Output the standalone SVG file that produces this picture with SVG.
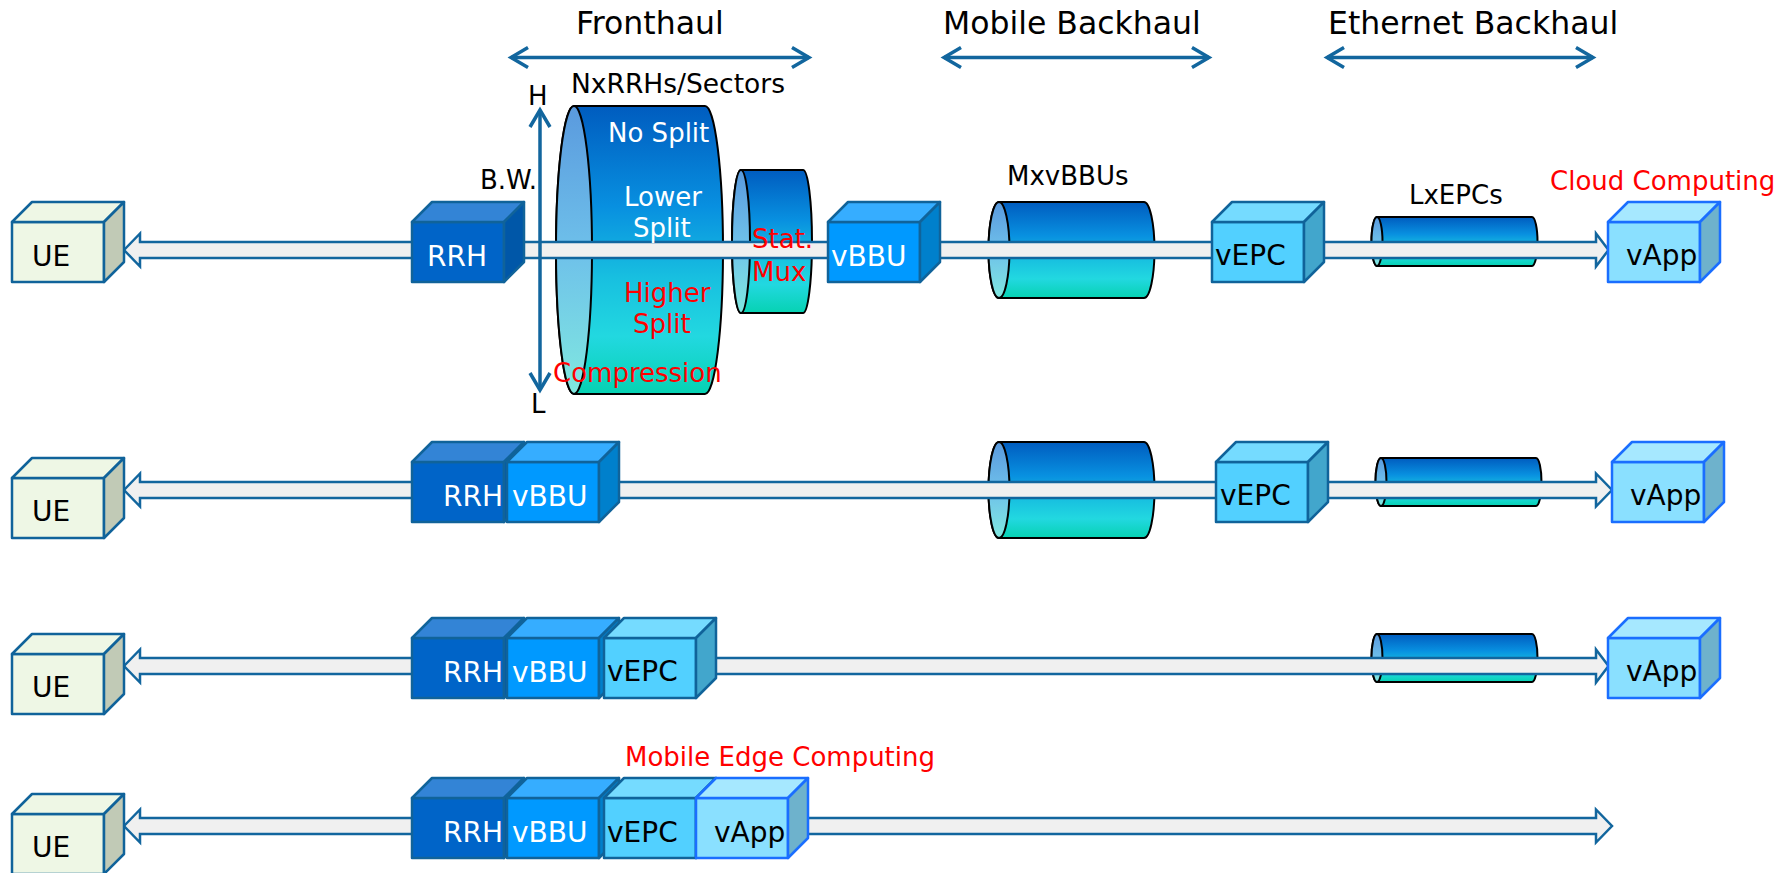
<svg xmlns="http://www.w3.org/2000/svg" width="1783" height="873" viewBox="0 0 1783 873">
  <style>
    text { font-family: "DejaVu Sans", Verdana, sans-serif; fill: #000; }
    .hdr { font-size: 31.5px; }
    .lbl { font-size: 26px; }
    .sm { font-size: 26.5px; }
    .cap { font-size: 28px; }
    .red { fill: #ff0000; }
    .wht { fill: #ffffff; }
    .span { fill: none; stroke: #12669e; stroke-width: 3.5; }
    .pipe { fill: #f0f0f0; stroke: #12669e; stroke-width: 2.5; }
    .cyl { stroke: #000; stroke-width: 2; fill: url(#bodyGrad); }
    .cylEnd { stroke: #000; stroke-width: 2; fill: url(#endGrad); }
    .cube rect, .cube polygon { stroke: #10639a; stroke-width: 2.5; stroke-linejoin: round; }
    .ue .f, .ue .t { fill: #eef7e5; } .ue .s { fill: #c1cab6; }
    .rrh .f { fill: #0064c8; } .rrh .t { fill: #3384d6; } .rrh .s { fill: #0057a8; }
    .bbu .f { fill: #0099ff; } .bbu .t { fill: #36adff; } .bbu .s { fill: #0080cc; }
    .epc .f { fill: #52d0ff; } .epc .t { fill: #75dbff; } .epc .s { fill: #42a6cc; }
    .app .f { fill: #8ae0ff; } .app .t { fill: #a6e8ff; } .app .s { fill: #6eb2cc; }
    .cube.app rect, .cube.app polygon { stroke: #1a6eff; }
  </style>
  <defs>
    <linearGradient id="bodyGrad" x1="0" y1="0" x2="0" y2="1">
      <stop offset="0" stop-color="#005cbf"/>
      <stop offset="0.35" stop-color="#0890e0"/>
      <stop offset="0.6" stop-color="#18c0e0"/>
      <stop offset="0.8" stop-color="#22d8e0"/>
      <stop offset="1" stop-color="#06d2b2"/>
    </linearGradient>
    <linearGradient id="endGrad" x1="0" y1="0" x2="0" y2="1">
      <stop offset="0" stop-color="#5a9ade"/>
      <stop offset="0.5" stop-color="#6ec0ea"/>
      <stop offset="1" stop-color="#80e8e0"/>
    </linearGradient>
    <marker id="chev" viewBox="-20 -12 22 24" refX="0" refY="0" markerWidth="22" markerHeight="24" markerUnits="userSpaceOnUse" orient="auto-start-reverse" overflow="visible">
      <path d="M-17,-10 L0,0 L-17,10" fill="none" stroke="#12669e" stroke-width="3.5"/>
    </marker>
  </defs>

  <!-- section headers -->
  <g id="headers">
    <text class="hdr" x="576" y="34">Fronthaul</text>
    <text class="hdr" x="943" y="34">Mobile Backhaul</text>
    <text class="hdr" x="1328" y="34">Ethernet Backhaul</text>
  </g>

  <!-- pooled resources (cylinders) -->
  <g id="pool-rrh">
    <path class="cyl" d="M574,106 H705 A18,144 0 0 1 705,394 H574 A18,144 0 0 1 574,106 Z"/>
    <ellipse class="cylEnd" cx="574" cy="250" rx="18" ry="144"/>
  </g>
  <g id="pool-statmux">
    <path class="cyl" d="M741,170 H803 A9,71.5 0 0 1 803,313 H741 A9,71.5 0 0 1 741,170 Z"/>
    <ellipse class="cylEnd" cx="741" cy="241.5" rx="9" ry="71.5"/>
  </g>
  <g id="pool-bbu-1">
    <path class="cyl" d="M999,202 H1144 A10.5,48 0 0 1 1144,298 H999 A10.5,48 0 0 1 999,202 Z"/>
    <ellipse class="cylEnd" cx="999" cy="250" rx="10.5" ry="48"/>
  </g>
  <g id="pool-bbu-2">
    <path class="cyl" d="M999,442 H1144 A10.5,48 0 0 1 1144,538 H999 A10.5,48 0 0 1 999,442 Z"/>
    <ellipse class="cylEnd" cx="999" cy="490" rx="10.5" ry="48"/>
  </g>
  <g id="pool-epc-1">
    <path class="cyl" d="M1377,217 H1532 A5.5,24.5 0 0 1 1532,266 H1377 A5.5,24.5 0 0 1 1377,217 Z"/>
    <ellipse class="cylEnd" cx="1377" cy="241.5" rx="5.5" ry="24.5"/>
  </g>
  <g id="pool-epc-2">
    <path class="cyl" d="M1381,458 H1536 A5.5,24 0 0 1 1536,506 H1381 A5.5,24 0 0 1 1381,458 Z"/>
    <ellipse class="cylEnd" cx="1381" cy="482" rx="5.5" ry="24"/>
  </g>
  <g id="pool-epc-3">
    <path class="cyl" d="M1377,634 H1532 A5.5,24 0 0 1 1532,682 H1377 A5.5,24 0 0 1 1377,634 Z"/>
    <ellipse class="cylEnd" cx="1377" cy="658" rx="5.5" ry="24"/>
  </g>

  <!-- connectors -->
  <g id="connectors">
    <line class="span" x1="511" y1="57.5" x2="809" y2="57.5" marker-start="url(#chev)" marker-end="url(#chev)"/>
    <line class="span" x1="944" y1="57.5" x2="1209" y2="57.5" marker-start="url(#chev)" marker-end="url(#chev)"/>
    <line class="span" x1="1327" y1="57.5" x2="1593" y2="57.5" marker-start="url(#chev)" marker-end="url(#chev)"/>
    <path class="pipe" d="M124,250 L140,233.5 L140,242 L1596,242 L1596,233.5 L1608.5,250 L1596,266.5 L1596,258 L140,258 L140,266.5 Z"/>
    <path class="pipe" d="M124,490 L140,473.5 L140,482 L1596,482 L1596,473.5 L1612,490 L1596,506.5 L1596,498 L140,498 L140,506.5 Z"/>
    <path class="pipe" d="M124,666 L140,649.5 L140,658 L1596,658 L1596,649.5 L1608.5,666 L1596,682.5 L1596,674 L140,674 L140,682.5 Z"/>
    <path class="pipe" d="M124,826 L140,809.5 L140,818 L1596,818 L1596,809.5 L1612,826 L1596,842.5 L1596,834 L140,834 L140,842.5 Z"/>
  </g>

  <!-- row 1: centralised RAN -->
  <g id="ue-1" class="cube ue">
    <rect class="f" x="12" y="222" width="92" height="60"/>
    <polygon class="t" points="12,222 32,202 124,202 104,222"/>
    <polygon class="s" points="104,222 124,202 124,262 104,282"/>
    <text class="cap" x="32" y="266">UE</text>
  </g>
  <g id="rrh-1" class="cube rrh">
    <rect class="f" x="412" y="222" width="92" height="60"/>
    <polygon class="t" points="412,222 432,202 524,202 504,222"/>
    <polygon class="s" points="504,222 524,202 524,262 504,282"/>
    <text class="cap wht" x="427" y="266">RRH</text>
  </g>
  <g id="vbbu-1" class="cube bbu">
    <rect class="f" x="828" y="222" width="92" height="60"/>
    <polygon class="t" points="828,222 848,202 940,202 920,222"/>
    <polygon class="s" points="920,222 940,202 940,262 920,282"/>
    <text class="cap wht" x="831" y="266">vBBU</text>
  </g>
  <g id="vepc-1" class="cube epc">
    <rect class="f" x="1212" y="222" width="92" height="60"/>
    <polygon class="t" points="1212,222 1232,202 1324,202 1304,222"/>
    <polygon class="s" points="1304,222 1324,202 1324,262 1304,282"/>
    <text class="cap" x="1215" y="265">vEPC</text>
  </g>
  <g id="vapp-1" class="cube app">
    <rect class="f" x="1608" y="222" width="92" height="60"/>
    <polygon class="t" points="1608,222 1628,202 1720,202 1700,222"/>
    <polygon class="s" points="1700,222 1720,202 1720,262 1700,282"/>
    <text class="cap" x="1626" y="265">vApp</text>
  </g>

  <!-- row 2: RRH with local vBBU -->
  <g id="ue-2" class="cube ue">
    <rect class="f" x="12" y="478" width="92" height="60"/>
    <polygon class="t" points="12,478 32,458 124,458 104,478"/>
    <polygon class="s" points="104,478 124,458 124,518 104,538"/>
    <text class="cap" x="32" y="521">UE</text>
  </g>
  <g id="rrh-2" class="cube rrh">
    <rect class="f" x="412" y="462" width="92" height="60"/>
    <polygon class="t" points="412,462 432,442 524,442 504,462"/>
    <polygon class="s" points="504,462 524,442 524,502 504,522"/>
    <text class="cap wht" x="443" y="506">RRH</text>
  </g>
  <g id="vbbu-2" class="cube bbu">
    <rect class="f" x="507" y="462" width="92" height="60"/>
    <polygon class="t" points="507,462 527,442 619,442 599,462"/>
    <polygon class="s" points="599,462 619,442 619,502 599,522"/>
    <text class="cap wht" x="512" y="506">vBBU</text>
  </g>
  <g id="vepc-2" class="cube epc">
    <rect class="f" x="1216" y="462" width="92" height="60"/>
    <polygon class="t" points="1216,462 1236,442 1328,442 1308,462"/>
    <polygon class="s" points="1308,462 1328,442 1328,502 1308,522"/>
    <text class="cap" x="1220" y="505">vEPC</text>
  </g>
  <g id="vapp-2" class="cube app">
    <rect class="f" x="1612" y="462" width="92" height="60"/>
    <polygon class="t" points="1612,462 1632,442 1724,442 1704,462"/>
    <polygon class="s" points="1704,462 1724,442 1724,502 1704,522"/>
    <text class="cap" x="1630" y="505">vApp</text>
  </g>

  <!-- row 3: RRH, vBBU and vEPC at the cell site -->
  <g id="ue-3" class="cube ue">
    <rect class="f" x="12" y="654" width="92" height="60"/>
    <polygon class="t" points="12,654 32,634 124,634 104,654"/>
    <polygon class="s" points="104,654 124,634 124,694 104,714"/>
    <text class="cap" x="32" y="697">UE</text>
  </g>
  <g id="rrh-3" class="cube rrh">
    <rect class="f" x="412" y="638" width="92" height="60"/>
    <polygon class="t" points="412,638 432,618 524,618 504,638"/>
    <polygon class="s" points="504,638 524,618 524,678 504,698"/>
    <text class="cap wht" x="443" y="682">RRH</text>
  </g>
  <g id="vbbu-3" class="cube bbu">
    <rect class="f" x="507" y="638" width="92" height="60"/>
    <polygon class="t" points="507,638 527,618 619,618 599,638"/>
    <polygon class="s" points="599,638 619,618 619,678 599,698"/>
    <text class="cap wht" x="512" y="682">vBBU</text>
  </g>
  <g id="vepc-3" class="cube epc">
    <rect class="f" x="604" y="638" width="92" height="60"/>
    <polygon class="t" points="604,638 624,618 716,618 696,638"/>
    <polygon class="s" points="696,638 716,618 716,678 696,698"/>
    <text class="cap" x="607" y="681">vEPC</text>
  </g>
  <g id="vapp-3" class="cube app">
    <rect class="f" x="1608" y="638" width="92" height="60"/>
    <polygon class="t" points="1608,638 1628,618 1720,618 1700,638"/>
    <polygon class="s" points="1700,638 1720,618 1720,678 1700,698"/>
    <text class="cap" x="1626" y="681">vApp</text>
  </g>

  <!-- row 4: everything at the edge -->
  <g id="ue-4" class="cube ue">
    <rect class="f" x="12" y="814" width="92" height="60"/>
    <polygon class="t" points="12,814 32,794 124,794 104,814"/>
    <polygon class="s" points="104,814 124,794 124,854 104,874"/>
    <text class="cap" x="32" y="857">UE</text>
  </g>
  <g id="rrh-4" class="cube rrh">
    <rect class="f" x="412" y="798" width="92" height="60"/>
    <polygon class="t" points="412,798 432,778 524,778 504,798"/>
    <polygon class="s" points="504,798 524,778 524,838 504,858"/>
    <text class="cap wht" x="443" y="842">RRH</text>
  </g>
  <g id="vbbu-4" class="cube bbu">
    <rect class="f" x="507" y="798" width="92" height="60"/>
    <polygon class="t" points="507,798 527,778 619,778 599,798"/>
    <polygon class="s" points="599,798 619,778 619,838 599,858"/>
    <text class="cap wht" x="512" y="842">vBBU</text>
  </g>
  <g id="vepc-4" class="cube epc">
    <rect class="f" x="604" y="798" width="92" height="60"/>
    <polygon class="t" points="604,798 624,778 716,778 696,798"/>
    <polygon class="s" points="696,798 716,778 716,838 696,858"/>
    <text class="cap" x="607" y="842">vEPC</text>
  </g>
  <g id="vapp-4" class="cube app">
    <rect class="f" x="696" y="798" width="92" height="60"/>
    <polygon class="t" points="696,798 716,778 808,778 788,798"/>
    <polygon class="s" points="788,798 808,778 808,838 788,858"/>
    <text class="cap" x="714" y="842">vApp</text>
  </g>

  <!-- bandwidth scale -->
  <g id="bw-scale">
    <line class="span" x1="540" y1="110" x2="540" y2="390" marker-start="url(#chev)" marker-end="url(#chev)"/>
    <text class="lbl" x="528" y="105">H</text>
    <text class="lbl" x="531" y="413">L</text>
    <text class="lbl" x="480" y="189">B.W.</text>
  </g>

  <!-- labels -->
  <g id="labels">
    <text class="sm" x="571" y="93">NxRRHs/Sectors</text>
    <text class="lbl wht" x="608" y="142">No Split</text>
    <text class="lbl wht" x="624" y="206">Lower</text>
    <text class="lbl wht" x="633" y="237">Split</text>
    <text class="lbl red" x="624" y="302">Higher</text>
    <text class="lbl red" x="633" y="333">Split</text>
    <text class="lbl red" x="553" y="382">Compression</text>
    <text class="lbl red" x="752" y="248">Stat.</text>
    <text class="lbl red" x="752" y="281">Mux</text>
    <text class="lbl" x="1007" y="185">MxvBBUs</text>
    <text class="lbl" x="1409" y="204">LxEPCs</text>
    <text class="lbl red" x="1550" y="190">Cloud Computing</text>
    <text class="lbl red" x="625" y="766">Mobile Edge Computing</text>
  </g>
</svg>
